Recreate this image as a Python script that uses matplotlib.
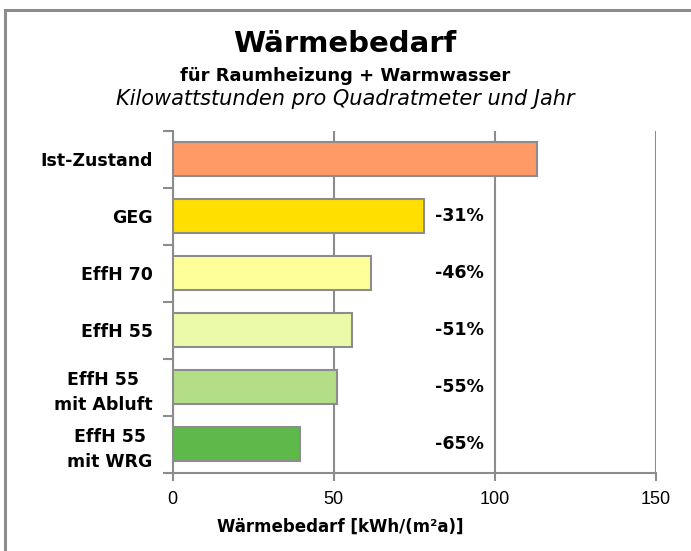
import matplotlib
matplotlib.use("Agg")
import matplotlib.pyplot as plt
from matplotlib.patches import Rectangle

categories = ["Ist-Zustand", "GEG", "EffH 70", "EffH 55", "EffH 55\nmit Abluft", "EffH 55\nmit WRG"]
values = [113, 78, 61.5, 55.5, 51, 39.5]
pct_labels = ["", "-31%", "-46%", "-51%", "-55%", "-65%"]
colors = ["#FF9966", "#FFDF00", "#FFFF99", "#EBFAA8", "#B3DE87", "#5EB94A"]
xticks = [0, 50, 100, 150]

FONT = "DejaVu Sans"
W, H = 691, 551
fig = plt.figure(figsize=(W / 100, H / 100), dpi=100)
ax = fig.add_axes([172.7 / W, 1 - 472.5 / H, (656 - 172.7) / W, (472.5 - 130.5) / H])

grey = "#8C8C8C"
ypos = list(range(len(categories)))
ax.barh(ypos, values, height=0.61, color=colors, edgecolor=grey, linewidth=1.5, zorder=3)

ax.set_xlim(0, 150)
ax.set_ylim(len(categories) - 0.5, -0.5)
ax.set_xticks(xticks)
ax.set_xticklabels([str(t) for t in xticks], fontsize=13, family="Liberation Sans")
ax.tick_params(axis="x", direction="out", length=6, width=1.5, color=grey, pad=7)

ax.set_yticks(ypos)
ax.set_yticklabels(categories, fontsize=12.5, fontweight="bold", family=FONT,
                   multialignment="center", linespacing=1.5)
ax.tick_params(axis="y", which="major", length=0, pad=14.5)
ax.set_yticks([i - 0.5 for i in range(len(categories) + 1)], minor=True)
ax.tick_params(axis="y", which="minor", direction="out", length=7, width=1.5, color=grey)

ax.grid(axis="x", color=grey, linewidth=1.5, zorder=0)
for s in ["top", "right"]:
    ax.spines[s].set_visible(False)
for s in ["left", "bottom"]:
    ax.spines[s].set_color(grey)
    ax.spines[s].set_linewidth(1.5)

for y, lab in zip(ypos, pct_labels):
    if lab:
        ax.text(96.5, y, lab, ha="right", va="center", fontsize=12.5,
                fontweight="bold", family=FONT)

fig.text(345 / W, 1 - 44 / H, "Wärmebedarf", ha="center", va="center",
         fontsize=21, fontweight="bold", family=FONT)
fig.text(345 / W, 1 - 76 / H, "für Raumheizung + Warmwasser", ha="center", va="center",
         fontsize=13, fontweight="bold", family=FONT)
fig.text(345 / W, 1 - 99 / H, "Kilowattstunden pro Quadratmeter und Jahr", ha="center",
         va="center", fontsize=15, style="italic", family=FONT)
fig.text(340 / W, 1 - 527 / H, "Wärmebedarf [kWh/(m²a)]", ha="center", va="center",
         fontsize=12, fontweight="bold", family=FONT)

fig.patches.append(Rectangle((5.5 / W, -0.02), 1.05, 1 - 9.5 / H + 0.02,
                             transform=fig.transFigure, fill=False,
                             edgecolor=grey, linewidth=2.2))

fig.savefig("out.png", dpi=100)
